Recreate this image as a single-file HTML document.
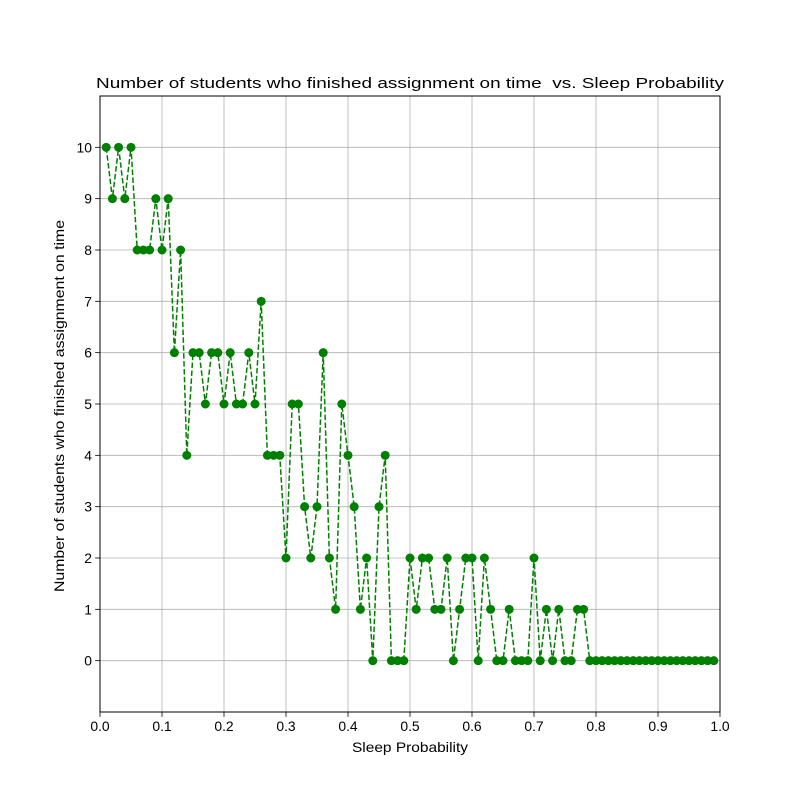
<!DOCTYPE html>
<html><head><meta charset="utf-8"><style>
html,body{margin:0;padding:0;background:#fff;}
svg{display:block;font-family:"Liberation Sans","DejaVu Sans",sans-serif;}
</style></head><body>
<svg id="chart" width="800" height="800" viewBox="0 0 800 800">
<rect x="0" y="0" width="800" height="800" fill="#fff"/>
<g id="grid"></g>
<g id="series"></g>
<rect x="100" y="96" width="620" height="616" fill="none" stroke="#000" stroke-width="1"/>
<g id="ticks"></g>
<text x="96" y="88" font-size="15" textLength="628" lengthAdjust="spacingAndGlyphs" style="white-space:pre">Number of students who finished assignment on time  vs. Sleep Probability</text>
<text x="352" y="752" font-size="13.9" textLength="116" lengthAdjust="spacingAndGlyphs">Sleep Probability</text>
<text x="0" y="0" font-size="13.9" textLength="372" lengthAdjust="spacingAndGlyphs" transform="translate(64 592) rotate(-90)">Number of students who finished assignment on time</text>
</svg>
<script>
const xTicks=[0,0.1,0.2,0.3,0.4,0.5,0.6,0.7,0.8,0.9,1.0];
const xTickLabels=["0.0","0.1","0.2","0.3","0.4","0.5","0.6","0.7","0.8","0.9","1.0"];
const yTicks=[0,1,2,3,4,5,6,7,8,9,10];
const probs=[];for(let i=1;i<=99;i++)probs.push(i/100);
const students=[10,9,10,9,10,8,8,8,9,8,9,6,8,4,6,6,5,6,6,5,6,5,5,6,5,7,4,4,4,2,5,5,3,2,3,6,2,1,5,4,3,1,2,0,3,4,0,0,0,2,1,2,2,1,1,2,0,1,2,2,0,2,1,0,0,1,0,0,0,2,0,1,0,1,0,0,1,1,0,0,0,0,0,0,0,0,0,0,0,0,0,0,0,0,0,0,0,0,0];
const NS="http://www.w3.org/2000/svg";
const X0=100,X1=720,Y0=712,Y1=96,xMin=0,xMax=1,yMin=-1,yMax=11;
function sx(v){return X0+(v-xMin)/(xMax-xMin)*(X1-X0);}
function sy(v){return Y0-(v-yMin)/(yMax-yMin)*(Y0-Y1);}
function mk(t,a,p){const e=document.createElementNS(NS,t);for(const k in a)e.setAttribute(k,a[k]);p.appendChild(e);return e;}
const grid=document.getElementById('grid'),ticks=document.getElementById('ticks'),ser=document.getElementById('series');
xTicks.forEach((v,i)=>{
 const g=mk('line',{x1:sx(v),x2:sx(v),y1:Y1,y2:Y0,stroke:'#b0b0b0','stroke-width':0.8},grid);
 
 
 const t=mk('line',{x1:sx(v),x2:sx(v),y1:Y0,y2:Y0+4.9,stroke:'#000','stroke-width':0.8},ticks);
 
 
 const l=mk('text',{x:sx(v),y:Y0+19,'text-anchor':'middle','font-size':13.9},ticks);
 l.textContent=xTickLabels[i];
 
 
});
yTicks.forEach(v=>{
 const g=mk('line',{x1:X0,x2:X1,y1:sy(v),y2:sy(v),stroke:'#b0b0b0','stroke-width':0.8},grid);
 
 
 const t=mk('line',{x1:X0-4.9,x2:X0,y1:sy(v),y2:sy(v),stroke:'#000','stroke-width':0.8},ticks);
 
 
 const l=mk('text',{x:X0-8,y:sy(v)+5,'text-anchor':'end','font-size':13.9},ticks);
 l.textContent=String(v);
 
 
});
const pts=probs.map((p,i)=>sx(p)+','+sy(students[i])).join(' ');
const pl=mk('polyline',{points:pts,fill:'none',stroke:'#008000','stroke-width':1.5,'stroke-dasharray':'5.5,2.4'},ser);


probs.forEach((p,i)=>{
 const c=mk('circle',{cx:sx(p),cy:sy(students[i]),r:4.5,fill:'#008000'},ser);
 
 
});
</script>
</body></html>
